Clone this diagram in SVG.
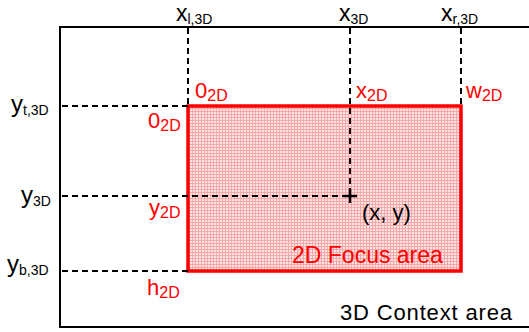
<svg xmlns="http://www.w3.org/2000/svg" width="529" height="332" viewBox="0 0 529 332">
<style>
.lbl{font-family:"Liberation Sans",Arial,sans-serif;fill:#000}
.red{fill:#ff0000}
.main{font-size:24px}
.top{font-size:23px}
.sub{font-size:14px}
.rm{font-size:22px}
.rs{font-size:16px}
.dash{stroke:#000;stroke-width:2;stroke-dasharray:6 4;fill:none}
</style>
<defs>
<pattern id="grid" width="3" height="3" patternUnits="userSpaceOnUse">
<rect width="3" height="3" fill="#fde4e4"/>
<path d="M0 0.5H3M0.5 0V3" stroke="#f6a8a8" stroke-width="1"/>
</pattern>
</defs>
<g id="context-area">
<rect x="60" y="27" width="490" height="300" fill="#fff" stroke="#000" stroke-width="2"/>
<text class="lbl" x="340" y="320" font-size="22" textLength="172" lengthAdjust="spacing">3D Context area</text>
</g>
<g id="focus-area">
<rect x="188" y="106" width="273" height="165" fill="url(#grid)" stroke="#ff0000" stroke-width="3.5"/>
<text class="lbl red" x="292" y="263" font-size="23">2D Focus area</text>
</g>
<g id="connectors">
<path class="dash" d="M188 28V106M350 28V196M461 28V106"/>
<path class="dash" d="M62 106H188M62 196H350M62 271H188"/>
</g>
<g id="point">
<path d="M343 196H357M350 189V203" stroke="#000" stroke-width="2.5"/>
<text class="lbl" x="362" y="220" font-size="22">(x, y)</text>
</g>
<g id="labels-3d">
<text class="lbl top" x="176" y="21">x<tspan class="sub" dy="3">l,3D</tspan></text>
<text class="lbl top" x="339" y="21">x<tspan class="sub" dy="3">3D</tspan></text>
<text class="lbl top" x="441" y="21">x<tspan class="sub" dy="3">r,3D</tspan></text>
<text class="lbl main" x="11" y="112">y<tspan class="sub" dy="3">t,3D</tspan></text>
<text class="lbl main" x="21" y="203">y<tspan class="sub" dy="3">3D</tspan></text>
<text class="lbl main" x="7" y="272">y<tspan class="sub" dy="3">b,3D</tspan></text>
</g>
<g id="labels-2d">
<text class="lbl red rm" x="195" y="98">0<tspan class="rs" dy="3">2D</tspan></text>
<text class="lbl red rm" x="356" y="98">x<tspan class="rs" dy="3">2D</tspan></text>
<text class="lbl red rm" x="466" y="98">w<tspan class="rs" dy="3">2D</tspan></text>
<text class="lbl red rm" x="148" y="128">0<tspan class="rs" dy="3">2D</tspan></text>
<text class="lbl red rm" x="149" y="215">y<tspan class="rs" dy="3">2D</tspan></text>
<text class="lbl red rm" x="147" y="295">h<tspan class="rs" dy="3">2D</tspan></text>
</g>
</svg>
